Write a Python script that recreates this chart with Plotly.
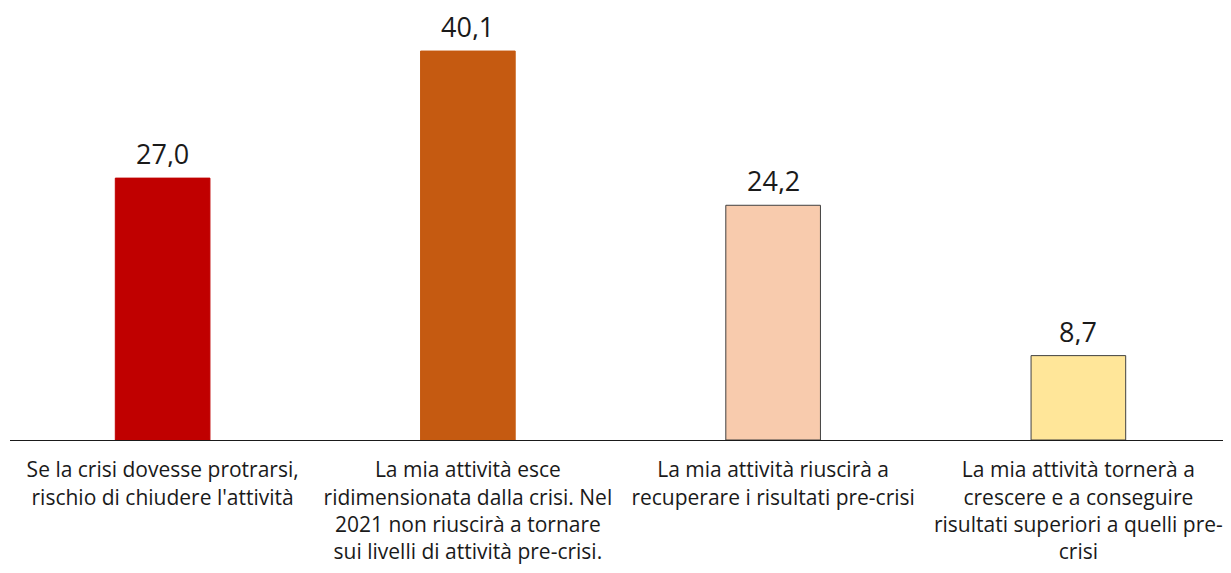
import plotly.graph_objects as go

categories = [
    "Se la crisi dovesse protrarsi,<br>rischio di chiudere l'attività",
    "La mia attività esce<br>ridimensionata dalla crisi. Nel<br>2021 non riuscirà a tornare<br>sui livelli di attività pre-crisi.",
    "La mia attività riuscirà a<br>recuperare i risultati pre-crisi",
    "La mia attività tornerà a<br>crescere e a conseguire<br>risultati superiori a quelli pre-<br>crisi",
]
values = [27.0, 40.1, 24.2, 8.7]
labels = ["27,0", "40,1", "24,2", "8,7"]
colors = ["#C00000", "#C55A11", "#F8CBAD", "#FFE699"]
outline = ["#C00000", "#C55A11", "#404040", "#404040"]

xs = list(range(len(categories)))

fig = go.Figure(go.Bar(
    x=xs,
    y=values,
    marker=dict(color=colors, line=dict(color=outline, width=1)),
    width=0.31,
))

for xi, v, t in zip(xs, values, labels):
    fig.add_annotation(
        x=xi, y=v, text=t, showarrow=False, yanchor="bottom", yshift=9,
        height=28, valign="middle",
        font=dict(family="Open Sans", size=27, color="#1a1a1a"),
    )

fig.update_layout(
    width=1223, height=565,
    margin=dict(l=2, r=0, t=0, b=133),
    plot_bgcolor="white", paper_bgcolor="white",
    showlegend=False,
    xaxis=dict(
        tickmode="array", tickvals=xs, ticktext=categories,
        range=[-0.5, 3.5], showline=True, linecolor="#1a1a1a", linewidth=1,
        ticks="outside", ticklen=11, tickcolor="rgba(0,0,0,0)",
        tickfont=dict(family="Open Sans", size=21, color="#1a1a1a"),
        tickangle=0, showgrid=False, zeroline=False,
    ),
    yaxis=dict(range=[0, 44.54], visible=False, showgrid=False, zeroline=False),
)

fig.write_html("out.html")
